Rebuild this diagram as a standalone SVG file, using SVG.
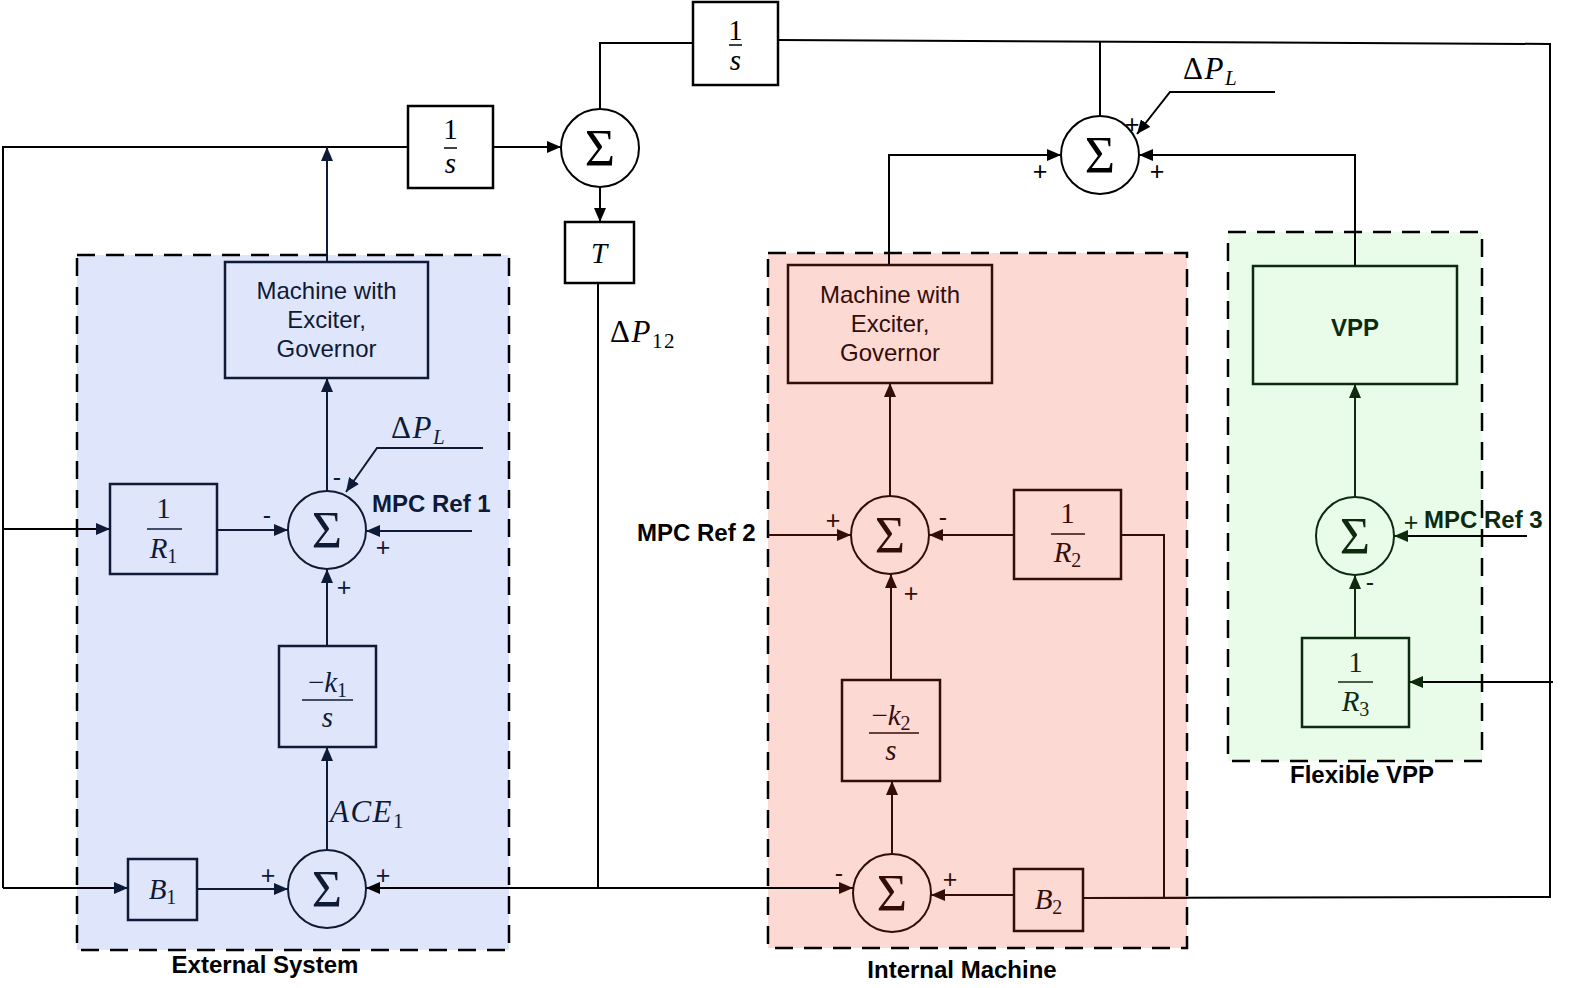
<svg xmlns="http://www.w3.org/2000/svg" width="1569" height="988" viewBox="0 0 1569 988">
  <defs>
    <marker id="ah" viewBox="0 0 14 12" refX="14" refY="6" markerWidth="14" markerHeight="12" markerUnits="userSpaceOnUse" orient="auto"><path d="M0,0 L14,6 L0,12 z" fill="#000"/></marker>
    <marker id="ahB" viewBox="0 0 14 12" refX="14" refY="6" markerWidth="14" markerHeight="12" markerUnits="userSpaceOnUse" orient="auto"><path d="M0,0 L14,6 L0,12 z" fill="#0f1a36"/></marker>
    <marker id="ahR" viewBox="0 0 14 12" refX="14" refY="6" markerWidth="14" markerHeight="12" markerUnits="userSpaceOnUse" orient="auto"><path d="M0,0 L14,6 L0,12 z" fill="#340d08"/></marker>
    <marker id="ahG" viewBox="0 0 14 12" refX="14" refY="6" markerWidth="14" markerHeight="12" markerUnits="userSpaceOnUse" orient="auto"><path d="M0,0 L14,6 L0,12 z" fill="#0e2a0e"/></marker>
  </defs>
  <style>
    .region { stroke: #000; stroke-width: 2.5; stroke-dasharray: 18 11; }
    .blk { fill: #fff; stroke: #000; stroke-width: 2.5; }
    .sum { fill: #fff; stroke: #000; stroke-width: 2; }
    .bB .blk, .bB .sum { fill: #dfe6fc; stroke: #0f1a36; }
    .bR .blk, .bR .sum { fill: #fdd9d3; stroke: #340d08; }
    .bG .blk, .bG .sum { fill: #e9fce9; stroke: #0e2a0e; }
    .bB text { fill: #0f1a36; }
    .bR text { fill: #340d08; }
    .bG text { fill: #0e2a0e; }
    .math { font-family: "Liberation Serif", "DejaVu Serif", serif; font-size: 29px; }
    .var { font-size: 31px; letter-spacing: 1.5px; }
    .it { font-style: italic; }
    .sig { font-family: "Liberation Serif", "DejaVu Serif", serif; font-size: 52px; text-anchor: middle; }
    .num { text-anchor: middle; }
    .lbl { font-family: "Liberation Sans", Arial, sans-serif; font-size: 24px; }
    .bold { font-weight: bold; }
    .sign { font-family: "Liberation Sans", Arial, sans-serif; font-size: 25px; text-anchor: middle; }
    .c { text-anchor: middle; }
    .bar { stroke-width: 1.5; }
    .w { fill: none; stroke: #000; stroke-width: 2; }
    .wB { fill: none; stroke: #0f1a36; stroke-width: 2; }
    .wR { fill: none; stroke: #340d08; stroke-width: 2; }
    .wG { fill: none; stroke: #0e2a0e; stroke-width: 2; }
  </style>

  <rect width="1569" height="988" fill="#fff"/>

  <!-- area containers -->
  <g id="area-external">
    <rect class="region" x="77" y="255" width="432" height="695" fill="#dfe6fc"/>
    <text class="lbl bold c" x="265" y="973">External System</text>
  </g>
  <g id="area-internal">
    <rect class="region" x="768" y="253" width="419" height="695" fill="#fdd9d3"/>
    <text class="lbl bold c" x="962" y="978">Internal Machine</text>
  </g>
  <g id="area-vpp">
    <rect class="region" x="1228" y="232" width="254" height="529" fill="#e9fce9"/>
    <text class="lbl bold c" x="1362" y="783">Flexible VPP</text>
  </g>

  <!-- connectors -->
  <g id="connectors">
    <!-- tie-line section -->
    <polyline class="w" points="3,888 3,147 408,147"/>
    <line class="w" x1="493" y1="147" x2="561" y2="147" marker-end="url(#ah)"/>
    <polyline class="w" points="693,43 600,43 600,109"/>
    <line class="w" x1="600" y1="187" x2="600" y2="222" marker-end="url(#ah)"/>
    <polyline class="w" points="778,40 1550,44 1550,897 1083,898"/>
    <line class="w" x1="1100" y1="42" x2="1100" y2="116"/>
    <polyline class="w" points="1275,92 1170,92 1137,134" marker-end="url(#ah)"/>
    <polyline class="w" points="889,265 889,155 1061,155" marker-end="url(#ah)"/>
    <polyline class="w" points="1355,266 1355,155 1139,155" marker-end="url(#ah)"/>
    <polyline class="w" points="598,283 598,888"/>
    <line class="w" x1="598" y1="888" x2="366" y2="888" marker-end="url(#ah)"/>
    <line class="w" x1="598" y1="888" x2="853" y2="888" marker-end="url(#ahR)"/>

    <!-- external system -->
    <line class="w" x1="3" y1="529" x2="110" y2="529" marker-end="url(#ahB)"/>
    <line class="w" x1="3" y1="888" x2="128" y2="888" marker-end="url(#ahB)"/>
    <line class="wB" x1="327" y1="262" x2="327" y2="147" marker-end="url(#ahB)"/>
    <line class="wB" x1="327" y1="491" x2="327" y2="378" marker-end="url(#ahB)"/>
    <line class="wB" x1="217" y1="530" x2="288" y2="530" marker-end="url(#ahB)"/>
    <polyline class="wB" points="483,448 377,448 346,492" marker-end="url(#ahB)"/>
    <line class="wB" x1="472" y1="531" x2="366" y2="531" marker-end="url(#ahB)"/>
    <line class="wB" x1="327" y1="646" x2="327" y2="569" marker-end="url(#ahB)"/>
    <line class="wB" x1="327" y1="850" x2="327" y2="747" marker-end="url(#ahB)"/>
    <line class="wB" x1="197" y1="889" x2="288" y2="889" marker-end="url(#ahB)"/>

    <!-- internal machine -->
    <line class="wR" x1="890" y1="496" x2="890" y2="383" marker-end="url(#ahR)"/>
    <line class="wR" x1="768" y1="535" x2="851" y2="535" marker-end="url(#ahR)"/>
    <line class="wR" x1="1014" y1="535" x2="929" y2="535" marker-end="url(#ahR)"/>
    <polyline class="wR" points="1121,535 1164,535 1164,898"/>
    <line class="wR" x1="891" y1="680" x2="891" y2="574" marker-end="url(#ahR)"/>
    <line class="wR" x1="892" y1="854" x2="892" y2="781" marker-end="url(#ahR)"/>
    <line class="wR" x1="1014" y1="895" x2="931" y2="895" marker-end="url(#ahR)"/>
    <line class="wR" x1="1083" y1="898" x2="1187" y2="898"/>

    <!-- flexible VPP -->
    <line class="wG" x1="1355" y1="497" x2="1355" y2="384" marker-end="url(#ahG)"/>
    <line class="wG" x1="1355" y1="638" x2="1355" y2="575" marker-end="url(#ahG)"/>
    <line class="w" x1="1527" y1="536" x2="1394" y2="536" marker-end="url(#ahG)"/>
    <line class="w" x1="1553" y1="682" x2="1409" y2="682" marker-end="url(#ahG)"/>
  </g>

  <!-- tie-line blocks -->
  <g id="int-top">
    <rect class="blk" x="693" y="2" width="85" height="83"/>
    <text class="math num" x="735.5" y="40">1</text>
    <line class="bar" x1="729" y1="45" x2="742" y2="45" stroke="#000"/>
    <text class="math num it" x="735.5" y="70">s</text>
  </g>
  <g id="int-left">
    <rect class="blk" x="408" y="106" width="85" height="82"/>
    <text class="math num" x="450.5" y="139">1</text>
    <line class="bar" x1="444" y1="148" x2="457" y2="148" stroke="#000"/>
    <text class="math num it" x="450.5" y="173">s</text>
  </g>
  <g id="sum-tie">
    <circle class="sum" cx="600" cy="148" r="39"/>
    <text class="sig" x="600" y="166">Σ</text>
  </g>
  <g id="gain-t">
    <rect class="blk" x="565" y="222" width="69" height="61"/>
    <text class="math num it" x="599" y="263">T</text>
  </g>
  <g id="label-dp12">
    <text class="math var" x="610" y="342">Δ<tspan class="it">P</tspan><tspan font-size="21" dy="6">12</tspan></text>
  </g>
  <g id="sum-freq">
    <circle class="sum" cx="1100" cy="155" r="39"/>
    <text class="sig" x="1100" y="173">Σ</text>
    <text class="sign" x="1132" y="133">+</text>
    <text class="sign" x="1040" y="180">+</text>
    <text class="sign" x="1157" y="180">+</text>
  </g>
  <g id="label-dpl-top">
    <text class="math var" x="1183" y="79">Δ<tspan class="it">P</tspan><tspan class="it" font-size="21" dy="6">L</tspan></text>
  </g>

  <!-- external system blocks -->
  <g id="ext-machine" class="bB">
    <rect class="blk" x="225" y="262" width="203" height="116"/>
    <text class="lbl c" x="326.5" y="299">Machine with</text>
    <text class="lbl c" x="326.5" y="328">Exciter,</text>
    <text class="lbl c" x="326.5" y="357">Governor</text>
  </g>
  <g id="ext-r1" class="bB">
    <rect class="blk" x="110" y="484" width="107" height="90"/>
    <text class="math num" x="163.5" y="518">1</text>
    <line class="bar" x1="147" y1="529" x2="182" y2="529" stroke="#0f1a36"/>
    <text class="math num" x="163.5" y="558"><tspan class="it">R</tspan><tspan font-size="20" dy="5">1</tspan></text>
  </g>
  <g id="ext-sum-ctrl" class="bB">
    <circle class="sum" cx="327" cy="530" r="39"/>
    <text class="sig" x="327" y="548">Σ</text>
    <text class="sign" x="267" y="524">-</text>
    <text class="sign" x="337" y="486">-</text>
    <text class="sign" x="383" y="556">+</text>
    <text class="sign" x="344" y="596">+</text>
    <text class="math var" x="391" y="438">Δ<tspan class="it">P</tspan><tspan class="it" font-size="21" dy="6">L</tspan></text>
    <text class="lbl bold" x="372" y="512">MPC Ref 1</text>
  </g>
  <g id="ext-k1" class="bB">
    <rect class="blk" x="279" y="646" width="97" height="101"/>
    <text class="math num" x="327.5" y="692">−<tspan class="it">k</tspan><tspan font-size="20" dy="5">1</tspan></text>
    <line class="bar" x1="302" y1="700" x2="353" y2="700" stroke="#0f1a36"/>
    <text class="math num it" x="327.5" y="727">s</text>
  </g>
  <g id="ext-sum-ace" class="bB">
    <circle class="sum" cx="327" cy="889" r="39"/>
    <text class="sig" x="327" y="907">Σ</text>
    <text class="sign" x="268" y="884">+</text>
    <text class="sign" x="383" y="884">+</text>
    <text class="math var" x="330" y="822"><tspan class="it">ACE</tspan><tspan font-size="21" dy="6">1</tspan></text>
  </g>
  <g id="ext-b1" class="bB">
    <rect class="blk" x="128" y="859" width="69" height="61"/>
    <text class="math num" x="162.5" y="899"><tspan class="it">B</tspan><tspan font-size="20" dy="5">1</tspan></text>
  </g>

  <!-- internal machine blocks -->
  <g id="int-machine" class="bR">
    <rect class="blk" x="788" y="265" width="204" height="118"/>
    <text class="lbl c" x="890" y="303">Machine with</text>
    <text class="lbl c" x="890" y="332">Exciter,</text>
    <text class="lbl c" x="890" y="361">Governor</text>
  </g>
  <g id="int-sum-ctrl" class="bR">
    <circle class="sum" cx="890" cy="535" r="39"/>
    <text class="sig" x="890" y="553">Σ</text>
    <text class="sign" x="833" y="529">+</text>
    <text class="sign" x="943" y="526">-</text>
    <text class="sign" x="911" y="602">+</text>
  </g>
  <g id="label-ref2">
    <text class="lbl bold" x="637" y="541">MPC Ref 2</text>
  </g>
  <g id="int-r2" class="bR">
    <rect class="blk" x="1014" y="490" width="107" height="89"/>
    <text class="math num" x="1067.5" y="523">1</text>
    <line class="bar" x1="1051" y1="534" x2="1085" y2="534" stroke="#340d08"/>
    <text class="math num" x="1067.5" y="562"><tspan class="it">R</tspan><tspan font-size="20" dy="5">2</tspan></text>
  </g>
  <g id="int-k2" class="bR">
    <rect class="blk" x="842" y="680" width="98" height="101"/>
    <text class="math num" x="891" y="725">−<tspan class="it">k</tspan><tspan font-size="20" dy="5">2</tspan></text>
    <line class="bar" x1="869" y1="733" x2="919" y2="733" stroke="#340d08"/>
    <text class="math num it" x="891" y="760">s</text>
  </g>
  <g id="int-sum-ace" class="bR">
    <circle class="sum" cx="892" cy="893" r="39"/>
    <text class="sig" x="892" y="911">Σ</text>
    <text class="sign" x="839" y="882">-</text>
    <text class="sign" x="950" y="888">+</text>
  </g>
  <g id="int-b2" class="bR">
    <rect class="blk" x="1014" y="869" width="69" height="62"/>
    <text class="math num" x="1048.5" y="909"><tspan class="it">B</tspan><tspan font-size="20" dy="5">2</tspan></text>
  </g>

  <!-- flexible VPP blocks -->
  <g id="vpp" class="bG">
    <rect class="blk" x="1253" y="266" width="204" height="118"/>
    <text class="lbl bold c" x="1355" y="336" font-size="28">VPP</text>
  </g>
  <g id="vpp-sum" class="bG">
    <circle class="sum" cx="1355" cy="536" r="39"/>
    <text class="sig" x="1355" y="554">Σ</text>
    <text class="sign" x="1411" y="531">+</text>
    <text class="sign" x="1370" y="591">-</text>
  </g>
  <g id="label-ref3">
    <text class="lbl bold" x="1424" y="528" fill="#0e2a0e">MPC Ref 3</text>
  </g>
  <g id="vpp-r3" class="bG">
    <rect class="blk" x="1302" y="638" width="107" height="89"/>
    <text class="math num" x="1355.5" y="672">1</text>
    <line class="bar" x1="1338" y1="682" x2="1373" y2="682" stroke="#0e2a0e"/>
    <text class="math num" x="1355.5" y="711"><tspan class="it">R</tspan><tspan font-size="20" dy="5">3</tspan></text>
  </g>
</svg>
